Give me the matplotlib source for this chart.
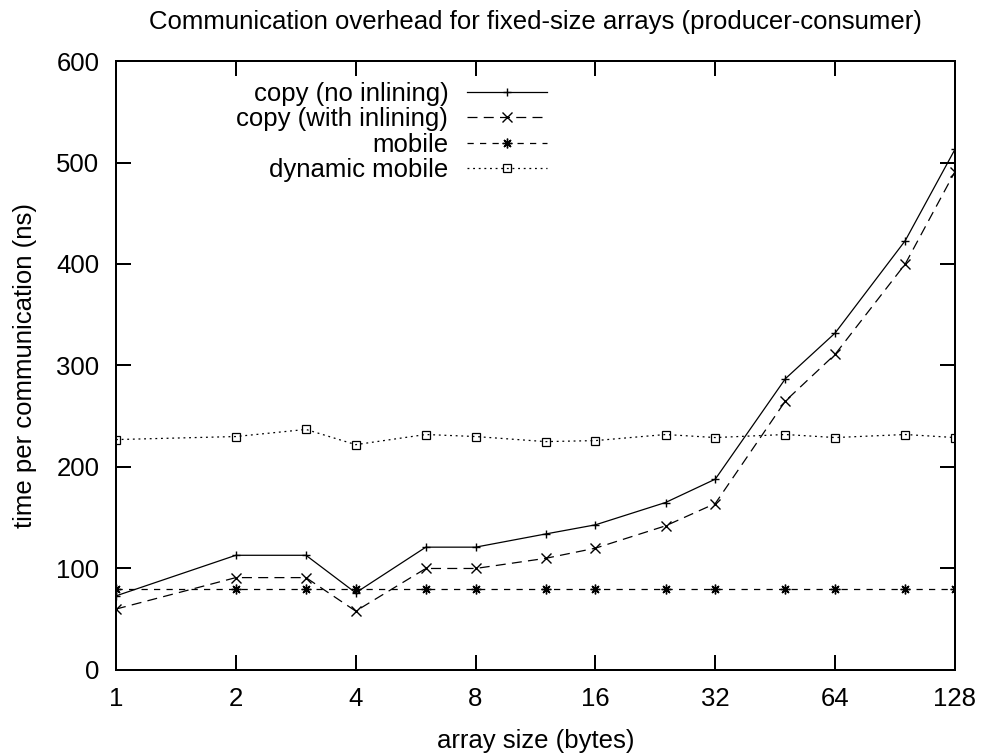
import matplotlib
matplotlib.use("Agg")
import matplotlib.pyplot as plt
from matplotlib.ticker import FixedLocator, FixedFormatter, NullLocator

plt.rcParams['font.family'] = ['Liberation Sans', 'DejaVu Sans']

sizes = [1, 2, 3, 4, 6, 8, 12, 16, 24, 32, 48, 64, 96, 128]
copy_no_inline = [73, 113, 113, 76, 121, 121, 134, 143, 165, 188, 287, 332, 423, 513]
copy_inline = [60, 91, 91, 58, 100, 100, 110, 120, 142, 164, 265, 311, 400, 491]
mobile = [80, 80, 80, 80, 80, 80, 80, 80, 80, 80, 80, 80, 80, 80]
dynamic_mobile = [227, 230, 237, 222, 232, 230, 225, 226, 232, 229, 232, 229, 232, 229]

xticks = [1, 2, 4, 8, 16, 32, 64, 128]
xticklabels = ["1", "2", "4", "8", "16", "32", "64", "128"]
yticks = [0, 100, 200, 300, 400, 500, 600]

FS = 18.5

fig = plt.figure(figsize=(9.83, 7.56), dpi=100)
ax = fig.add_axes([0.118, 0.1138, 0.8535, 0.8055])

lw = 0.9
ax.plot(sizes, copy_no_inline, color='black', lw=lw, ls='-', marker='+',
        ms=6, mew=1.0, label='copy (no inlining)')
ax.plot(sizes, copy_inline, color='black', lw=lw, ls=(0, (8, 5)), marker='x',
        ms=6.5, mew=1.0, label='copy (with inlining)')
ax.plot(sizes, mobile, color='black', lw=lw, ls=(0, (5, 5)), marker=(8, 2, 0),
        ms=7, mew=1.0, label='mobile')
ax.plot(sizes, dynamic_mobile, color='black', lw=lw, ls=(0, (1.5, 3)), marker='s',
        ms=6, mew=0.9, mfc='none', label='dynamic mobile')

ax.set_xscale('log', base=2)
ax.set_xlim(1, 128)
ax.set_ylim(0, 600)
ax.xaxis.set_major_locator(FixedLocator(xticks))
ax.xaxis.set_major_formatter(FixedFormatter(xticklabels))
ax.xaxis.set_minor_locator(NullLocator())
ax.yaxis.set_major_locator(FixedLocator(yticks))
ax.yaxis.set_minor_locator(NullLocator())

ax.tick_params(direction='in', length=10.5, width=1.44, top=True, right=True,
               labelsize=FS, colors='black')
ax.tick_params(axis='x', pad=12)
ax.tick_params(axis='y', pad=12)
for s in ax.spines.values():
    s.set_linewidth(1.44)

ax.set_xlabel('array size (bytes)', fontsize=FS, labelpad=13)
ax.set_ylabel('time per communication (ns)', fontsize=FS, labelpad=14)
ax.set_title('Communication overhead for fixed-size arrays (producer-consumer)',
             fontsize=FS, pad=23)

leg = ax.legend(loc='upper right', bbox_to_anchor=(0.5137, 0.966), frameon=False,
                markerfirst=False, fontsize=FS, handlelength=3.1,
                handletextpad=0.74, labelspacing=0.06, borderpad=0,
                borderaxespad=0)

fig.savefig('out.png', dpi=100)
